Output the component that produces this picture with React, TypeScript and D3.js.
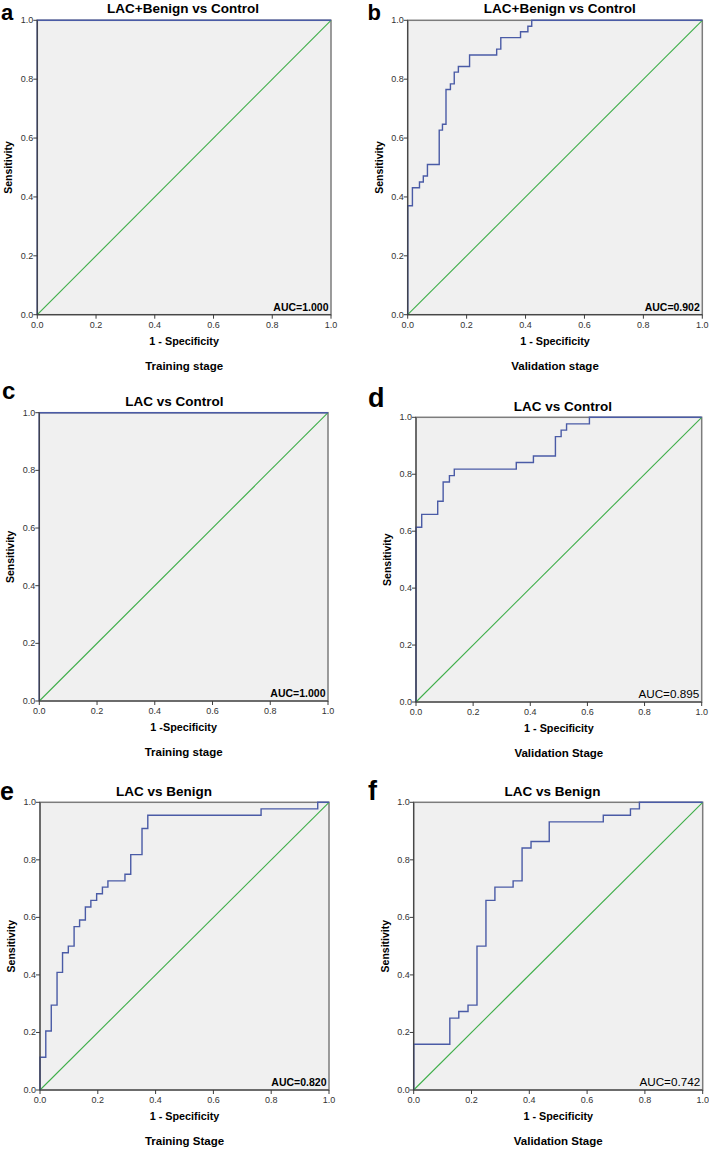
import * as d3 from 'd3';

// ROC step vertices (1 - specificity, sensitivity)
const perfectFpr = [0, 0, 1];
const perfectTpr = [0, 1, 1];

const bFpr = [0, 0, 0.016, 0.040, 0.053, 0.067, 0.107, 0.118, 0.130, 0.145, 0.158, 0.172, 0.210, 0.302, 0.316, 0.383, 0.408, 0.421, 1.0];
const bTpr = [0, 0.370, 0.431, 0.451, 0.471, 0.510, 0.627, 0.647, 0.765, 0.784, 0.824, 0.843, 0.882, 0.902, 0.941, 0.961, 0.980, 1.0, 1.0];

const dFpr = [0, 0, 0.020, 0.076, 0.095, 0.117, 0.134, 0.351, 0.411, 0.488, 0.508, 0.527, 0.607, 1.0];
const dTpr = [0, 0.614, 0.659, 0.705, 0.773, 0.795, 0.818, 0.841, 0.864, 0.932, 0.955, 0.977, 1.0, 1.0];

const eFpr = [0, 0, 0.020, 0.039, 0.059, 0.078, 0.098, 0.118, 0.137, 0.157, 0.176, 0.196, 0.216, 0.235, 0.294, 0.314, 0.353, 0.373, 0.765, 0.961, 1.0];
const eTpr = [0, 0.114, 0.205, 0.295, 0.409, 0.477, 0.500, 0.568, 0.591, 0.636, 0.659, 0.682, 0.705, 0.727, 0.750, 0.818, 0.909, 0.955, 0.977, 1.0, 1.0];

const fFpr = [0, 0, 0.125, 0.156, 0.188, 0.219, 0.250, 0.281, 0.344, 0.375, 0.406, 0.469, 0.656, 0.750, 0.781, 1.0];
const fTpr = [0, 0.159, 0.250, 0.273, 0.295, 0.500, 0.659, 0.705, 0.727, 0.841, 0.864, 0.932, 0.955, 0.977, 1.0, 1.0];

const ticks = [0, 0.2, 0.4, 0.6, 0.8, 1.0];
const titles = ['LAC+Benign vs Control', 'LAC+Benign vs Control', 'LAC vs Control', 'LAC vs Control', 'LAC vs Benign', 'LAC vs Benign'];
const letters = ['a', 'b', 'c', 'd', 'e', 'f'];
const xLabels = ['1 - Specificity', '1 - Specificity', '1 -Specificity', '1 - Specificity', '1 - Specificity', '1 - Specificity'];
const stages = ['Training stage', 'Validation stage', 'Training stage', 'Validation Stage', 'Training Stage', 'Validation Stage'];
const aucs = ['AUC=1.000', 'AUC=0.902', 'AUC=1.000', 'AUC=0.895', 'AUC=0.820', 'AUC=0.742'];

const FONT = "'Liberation Sans', Arial, Helvetica, sans-serif";
const BG = '#f0f0f0';
const CURVE = '#4a5ba6';
const DIAG = '#3fae4a';

type Layout = {
    left: number; top: number; w: number; h: number;
    titleX: number; titleY: number;
    letterX: number; letterY: number; letterSize: number;
    aucBold: boolean;
};

const layouts: Layout[] = [
    { left: 37.3, top: 20.3, w: 293.7, h: 294.4, titleX: 183, titleY: 12.7, letterX: 1, letterY: 20, letterSize: 22, aucBold: true },
    { left: 407.7, top: 20.3, w: 294.6, h: 294.4, titleX: 559.7, titleY: 13.3, letterX: 367.5, letterY: 20, letterSize: 22, aucBold: true },
    { left: 39.3, top: 412.7, w: 288.7, h: 288.3, titleX: 174.5, titleY: 405.7, letterX: 2, letterY: 399, letterSize: 24, aucBold: true },
    { left: 416, top: 417.3, w: 285.7, h: 284.7, titleX: 562.8, titleY: 410.7, letterX: 368, letterY: 406.7, letterSize: 27, aucBold: false },
    { left: 40, top: 802.3, w: 289, h: 287.7, titleX: 164, titleY: 796, letterX: 0, letterY: 800, letterSize: 25, aucBold: true },
    { left: 413.7, top: 802.3, w: 289, h: 287.7, titleX: 552.5, titleY: 796, letterX: 368, letterY: 800, letterSize: 27, aucBold: false },
];

const curves: [number[], number[]][] = [
    [perfectFpr, perfectTpr],
    [bFpr, bTpr],
    [perfectFpr, perfectTpr],
    [dFpr, dTpr],
    [eFpr, eTpr],
    [fFpr, fTpr],
];

function RocPanel({ i }: { i: number }) {
    const L = layouts[i];
    const [fpr, tpr] = curves[i];
    const x = d3.scaleLinear().domain([0, 1]).range([L.left, L.left + L.w]);
    const y = d3.scaleLinear().domain([0, 1]).range([L.top + L.h, L.top]);
    const bottom = L.top + L.h;
    const right = L.left + L.w;

    const pts: [number, number][] = fpr.map((v, k) => [v, tpr[k]]);
    const stepLine = d3.line<[number, number]>()
        .x((d) => x(d[0]))
        .y((d) => y(d[1]))
        .curve(d3.curveStepAfter);
    const diag = d3.line<number>().x((d) => x(d)).y((d) => y(d))([0, 1]) || '';

    return (
        <g>
            <rect x={L.left} y={L.top} width={L.w} height={L.h} fill={BG} stroke="#7c7c7c" strokeWidth={1.5} />
            <path d={diag} fill="none" stroke={DIAG} strokeWidth={1.1} />
            <path d={stepLine(pts) || ''} fill="none" stroke={CURVE} strokeWidth={1.4} />
            {/* axes */}
            <line x1={L.left} x2={L.left} y1={L.top} y2={bottom} stroke="#3c3c3c" strokeWidth={1} />
            <line x1={L.left} x2={right} y1={bottom} y2={bottom} stroke="#3c3c3c" strokeWidth={1} />
            {ticks.map((t) => (
                <g key={'y' + t}>
                    <line x1={L.left - 4} x2={L.left} y1={y(t)} y2={y(t)} stroke="#3c3c3c" />
                    <text x={L.left - 4} y={y(t) + 3} fontSize={9} fill="#333" textAnchor="end" fontFamily={FONT}>{t.toFixed(1)}</text>
                </g>
            ))}
            {ticks.map((t) => (
                <g key={'x' + t}>
                    <line x1={x(t)} x2={x(t)} y1={bottom} y2={bottom + 4} stroke="#3c3c3c" />
                    <text x={x(t)} y={bottom + 13} fontSize={9} fill="#333" textAnchor="middle" fontFamily={FONT}>{t.toFixed(1)}</text>
                </g>
            ))}
            <text x={L.titleX} y={L.titleY} fontSize={13.5} fontWeight="bold" textAnchor="middle" fontFamily={FONT}>{titles[i]}</text>
            <text x={L.letterX} y={L.letterY} fontSize={L.letterSize} fontWeight="bold" fontFamily={FONT}>{letters[i]}</text>
            <text transform={`translate(${L.left - 25},${L.top + L.h / 2}) rotate(-90)`} fontSize={10.5} fontWeight="bold" textAnchor="middle" fontFamily={FONT}>Sensitivity</text>
            <text x={L.left + L.w / 2} y={bottom + 30} fontSize={10.8} fontWeight="bold" textAnchor="middle" fontFamily={FONT}>{xLabels[i]}</text>
            <text x={L.left + L.w / 2} y={bottom + 55} fontSize={11.5} fontWeight="bold" textAnchor="middle" fontFamily={FONT}>{stages[i]}</text>
            <text x={right - 2.5} y={bottom - 4} fontSize={L.aucBold ? 10.5 : 11.7} fontWeight={L.aucBold ? 'bold' : 'normal'} textAnchor="end" fontFamily={FONT}>{aucs[i]}</text>
        </g>
    );
}

export default function App() {
    return (
        <svg width={709} height={1149} style={{ position: 'absolute', left: 0, top: 0, background: '#fff' }}>
            {layouts.map((_, i) => <RocPanel key={i} i={i} />)}
        </svg>
    );
}
